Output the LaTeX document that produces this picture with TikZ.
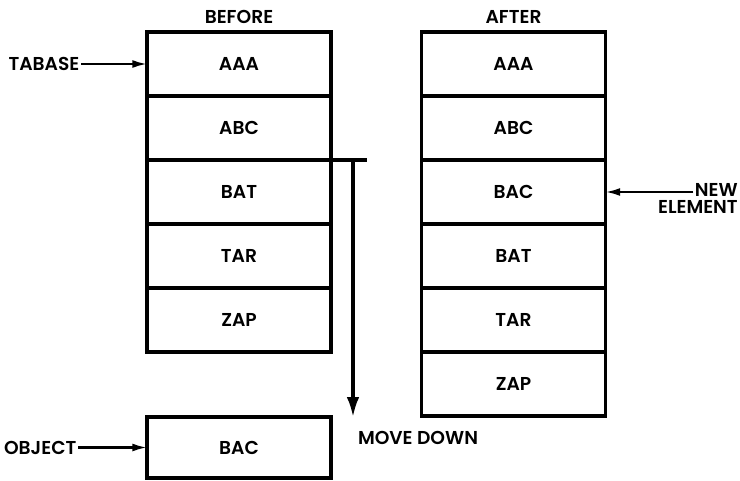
\documentclass[tikz,border=0pt]{standalone}
\usepackage{fontspec}
\setmainfont{Poppins SemiBold}
\usetikzlibrary{arrows.meta,positioning}
\tikzset{
  cell/.style={draw,line width=2.6pt,minimum width=138pt,minimum height=48pt,
    inner sep=0pt,outer sep=0pt,font=\fontsize{14}{16}\selectfont},
  lbl/.style={inner sep=1pt,font=\fontsize{14}{16}\selectfont},
  tight/.style={lbl,inner sep=0pt,text depth=0pt},
  ptr/.style={-{Latex[length=11pt,width=6pt]},line width=1.7pt},
  shove/.style={-{Latex[length=15pt,width=9.5pt]},line width=2.4pt},
}
\begin{document}
\begin{tikzpicture}[x=0.75pt,y=0.75pt]
\useasboundingbox (0,0) rectangle (740,480);
% ---------- before ----------
\node[lbl] (before) at (239,463) {BEFORE};
\node[cell] (b1) at (239,416) {AAA};
\foreach \t [count=\i from 2] in {ABC,BAT,TAR,ZAP}{
  \pgfmathtruncatemacro\j{\i-1}
  \node[cell,below=0pt of b\j] (b\i) {\t};
}
\node[lbl,anchor=east] (tabase) at (81,416) {TABASE};
\draw[ptr] (tabase) -- (b1);
% ---------- object to insert ----------
\node[cell,minimum height=45.75pt] (obj) at (239,32.5) {BAC};
\node[lbl,anchor=east] (object) at (78,32.5) {OBJECT};
\draw[ptr] (object) -- (obj);
% move down marker
\coordinate (tee) at ([xshift=27pt]b2.south east);
\coordinate (drop) at ([xshift=16.5pt]b2.south east);
\draw[line width=3.2pt] (b2.south east) -- (tee);
\draw[shove] (drop) -- (drop |- obj.north);
\node[lbl] (move) at (418,42) {MOVE DOWN};
% ---------- after ----------
\node[lbl] (after) at (513.5,463) {AFTER};
\node[cell] (a1) at (513.5,416) {AAA};
\foreach \t [count=\i from 2] in {ABC,BAC,BAT,TAR,ZAP}{
  \pgfmathtruncatemacro\j{\i-1}
  \node[cell,below=0pt of a\j] (a\i) {\t};
}
\node[tight,anchor=east] (new) at (738,290) {NEW};
\node[tight,anchor=east] (elem) at (738,273) {ELEMENT};
\draw[ptr] ([xshift=-1pt]new.west |- a3.east) -- (a3.east);
\end{tikzpicture}
\end{document}
